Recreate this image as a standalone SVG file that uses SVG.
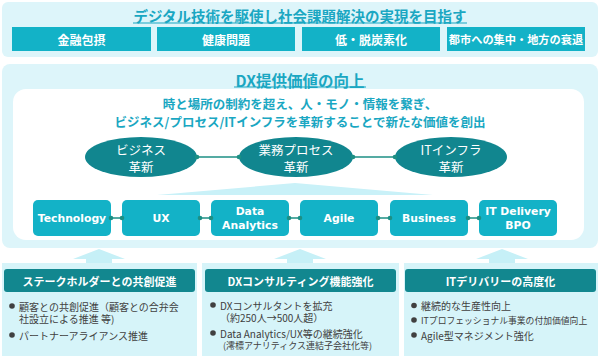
<svg xmlns="http://www.w3.org/2000/svg" width="600" height="356" viewBox="0 0 600 356">
<style>
.panel{fill:#ddf5fa}
.title{font-family:"Noto Sans CJK JP",sans-serif;font-weight:bold;fill:#1aa7c2;text-anchor:middle;dominant-baseline:central}
.ul{stroke:#1aa7c2;stroke-width:1.2}
.topbox{fill:#13b2c7}
.wt{font-family:"Noto Sans CJK JP",sans-serif;font-weight:bold;fill:#fff;text-anchor:middle;dominant-baseline:central}
.ell{fill:#11868f}
.et{font-family:"Noto Sans CJK JP",sans-serif;fill:#fff;font-size:12.5px;text-anchor:middle;dominant-baseline:central}
.bx{fill:#13b2c7}
.bt{font-family:"DejaVu Sans",Verdana,sans-serif;font-weight:bold;fill:#fff;font-size:10.8px;text-anchor:middle;dominant-baseline:central}
.arrow{fill:#c6f0f7}
.bpanel{fill:#d6f4f9}
.hdr{fill:#12878f}
.li{font-family:"Noto Sans CJK JP",sans-serif;fill:#404040;font-size:10px;dominant-baseline:central}
.dot{fill:#404040}
.cl{stroke:#1d8f84;stroke-width:1.5;fill:none}
.cd{fill:#1d8f84}
</style>

<!-- Top panel -->
<g id="goal">
<rect class="panel" x="2" y="2" width="596" height="55" rx="6"/>
<text class="title" x="300" y="15" font-size="14.5">デジタル技術を駆使し社会課題解決の実現を目指す</text>
<line class="ul" x1="133" y1="23" x2="467" y2="23"/>
</g>
<g id="issue1"><rect class="topbox" x="12" y="27" width="139" height="24"/><text class="wt" x="81.5" y="39" font-size="12">金融包摂</text></g>
<g id="issue2"><rect class="topbox" x="157" y="27" width="138" height="24"/><text class="wt" x="226" y="39" font-size="12">健康問題</text></g>
<g id="issue3"><rect class="topbox" x="302" y="27" width="138" height="24"/><text class="wt" x="371" y="39" font-size="12">低・脱炭素化</text></g>
<g id="issue4"><rect class="topbox" x="447" y="27" width="138" height="24"/><text class="wt" x="516" y="39" font-size="11.2">都市への集中・地方の衰退</text></g>

<!-- DX panel -->
<g id="dx">
<rect class="panel" x="2" y="64" width="596" height="184" rx="8"/>
<text class="title" x="300" y="79.5" font-size="15.5">DX提供価値の向上</text>
<line class="ul" x1="234" y1="87" x2="366" y2="87"/>
<rect x="13" y="89" width="571" height="151" rx="13" fill="#fff"/>
<text class="title" x="300" y="103.5" font-size="12.5">時と場所の制約を超え、人・モノ・情報を繋ぎ、</text>
<text class="title" x="300" y="121" font-size="12.5">ビジネス/プロセス/ITインフラを革新することで新たな価値を創出</text>
<polygon points="157,195 295,183 433,195" fill="#c9f1f8"/>
</g>

<g id="e-business"><ellipse class="ell" cx="141" cy="157" rx="56" ry="20"/><text class="et" x="141" y="149">ビジネス</text><text class="et" x="141" y="166">革新</text></g>
<g id="e-process"><ellipse class="ell" cx="296" cy="157" rx="57" ry="20"/><text class="et" x="296" y="149">業務プロセス</text><text class="et" x="296" y="166">革新</text></g>
<g id="e-infra"><ellipse class="ell" cx="451" cy="157" rx="56" ry="20"/><text class="et" x="451" y="149">ITインフラ</text><text class="et" x="451" y="166">革新</text></g>

<g id="b-tech"><rect class="bx" x="33" y="200" width="78" height="36" rx="5"/><text class="bt" x="72" y="218">Technology</text></g>
<g id="b-ux"><rect class="bx" x="122" y="200" width="78" height="36" rx="5"/><text class="bt" x="161" y="218">UX</text></g>
<g id="b-data"><rect class="bx" x="211" y="200" width="78" height="36" rx="5"/><text class="bt" x="250" y="211">Data</text><text class="bt" x="250" y="225">Analytics</text></g>
<g id="b-agile"><rect class="bx" x="300" y="200" width="78" height="36" rx="5"/><text class="bt" x="339" y="218">Agile</text></g>
<g id="b-business"><rect class="bx" x="390" y="200" width="78" height="36" rx="5"/><text class="bt" x="429" y="218">Business</text></g>
<g id="b-itd"><rect class="bx" x="479" y="200" width="78" height="36" rx="5"/><text class="bt" x="518" y="211">IT Delivery</text><text class="bt" x="518" y="225">BPO</text></g>

<g id="connectors">
<line class="cl" x1="197" y1="157" x2="239" y2="157"/><circle class="cd" cx="197" cy="157" r="2.3"/><circle class="cd" cx="239" cy="157" r="2.3"/>
<line class="cl" x1="353" y1="157" x2="395" y2="157"/><circle class="cd" cx="353" cy="157" r="2.3"/><circle class="cd" cx="395" cy="157" r="2.3"/>
<line class="cl" x1="111" y1="218" x2="122" y2="218"/><circle class="cd" cx="111" cy="218" r="2.3"/><circle class="cd" cx="122" cy="218" r="2.3"/>
<line class="cl" x1="200" y1="218" x2="211" y2="218"/><circle class="cd" cx="200" cy="218" r="2.3"/><circle class="cd" cx="211" cy="218" r="2.3"/>
<line class="cl" x1="289" y1="218" x2="300" y2="218"/><circle class="cd" cx="289" cy="218" r="2.3"/><circle class="cd" cx="300" cy="218" r="2.3"/>
<line class="cl" x1="378" y1="218" x2="390" y2="218"/><circle class="cd" cx="378" cy="218" r="2.3"/><circle class="cd" cx="390" cy="218" r="2.3"/>
<line class="cl" x1="468" y1="218" x2="479" y2="218"/><circle class="cd" cx="468" cy="218" r="2.3"/><circle class="cd" cx="479" cy="218" r="2.3"/>
<polygon class="arrow" points="73,259 99,249 125,259 112,259 112,264 86,264 86,259"/>
<polygon class="arrow" points="274,259 300,249 326,259 313,259 313,264 287,264 287,259"/>
<polygon class="arrow" points="476,259 502,249 528,259 515,259 515,264 489,264 489,259"/>
</g>

<!-- Bottom panels -->
<g id="stakeholder">
<rect class="bpanel" x="2" y="263" width="195" height="93"/>
<rect class="hdr" x="4" y="269" width="191" height="23" rx="3"/>
<text class="wt" x="99.5" y="280.5" font-size="11">ステークホルダーとの共創促進</text>
<circle class="dot" cx="12" cy="306" r="2.8"/>
<text class="li" x="19" y="306">顧客との共創促進（顧客との合弁会</text>
<text class="li" x="19" y="318">社設立による推進 等)</text>
<circle class="dot" cx="12" cy="335" r="2.8"/>
<text class="li" x="19" y="335">パートナーアライアンス推進</text>
</g>
<g id="consulting">
<rect class="bpanel" x="202" y="263" width="197" height="93"/>
<rect class="hdr" x="205" y="269" width="191" height="23" rx="3"/>
<text class="wt" x="300.5" y="280.5" font-size="11">DXコンサルティング機能強化</text>
<circle class="dot" cx="213" cy="305" r="2.8"/>
<text class="li" x="220" y="305">DXコンサルタントを拡充</text>
<text class="li" x="220" y="317">（約250人→500人超）</text>
<circle class="dot" cx="213" cy="333" r="2.8"/>
<text class="li" x="220" y="333">Data Analytics/UX等の継続強化</text>
<text class="li" x="223" y="345" style="font-size:9px">(澪標アナリティクス連結子会社化等)</text>
</g>
<g id="itdelivery">
<rect class="bpanel" x="404" y="263" width="194" height="93"/>
<rect class="hdr" x="405" y="269" width="191" height="23" rx="3"/>
<text class="wt" x="500.5" y="280.5" font-size="11">ITデリバリーの高度化</text>
<circle class="dot" cx="414" cy="305.5" r="2.8"/>
<text class="li" x="421" y="305.5">継続的な生産性向上</text>
<circle class="dot" cx="414" cy="320" r="2.8"/>
<text class="li" x="421" y="320" style="font-size:8.8px">ITプロフェッショナル事業の付加価値向上</text>
<circle class="dot" cx="414" cy="335" r="2.8"/>
<text class="li" x="421" y="335">Agile型マネジメント強化</text>
</g>
</svg>
